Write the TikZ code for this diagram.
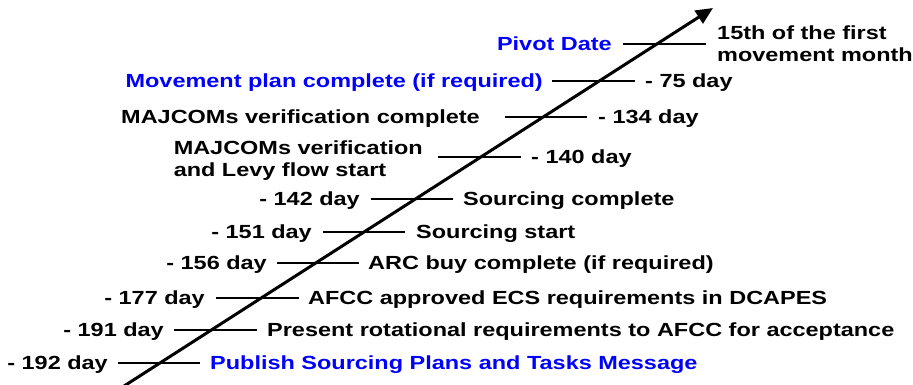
\documentclass[tikz,border=0pt]{standalone}
\usepackage{fontspec}
\newfontfamily\labfont{Liberation Sans}[FakeStretch=1.235]
\usetikzlibrary{arrows.meta}
\definecolor{pblue}{RGB}{0,0,255}
\begin{document}
\begin{tikzpicture}[x=1pt,y=-1pt,
  lab/.style={font=\labfont\bfseries\fontsize{19}{22}\selectfont, inner sep=0pt, text=black},
  rt/.style={lab, anchor=base west},
  lt/.style={lab, anchor=base east},
  hl/.style={text=pblue},
  tickline/.style={line width=2pt},
  axis/.style={line width=3pt, -{Triangle[length=17pt,width=15pt]}}]
\useasboundingbox (0,0) rectangle (913,385);
% timeline arrow
\coordinate (s) at (121,388);
\coordinate (e) at (713,8);
\draw[axis] (s) -- (e);
% ticks
\foreach \i/\xa/\xb/\y in {1/623/706/44, 2/552/635/81, 3/505/587/117, 4/438/521/157,
  5/371/453/199, 6/323/405/232, 7/277/359/263, 8/216/299/298, 9/174/257/330, 10/118/200/363}{
  \coordinate (a\i) at (\xa,\y);
  \coordinate (b\i) at (\xb,\y);
  \draw[tickline] (a\i) -- (b\i);
}
% labels
\node[lt,hl] (l1) at ([shift={(-11,6.8)}]a1) {Pivot Date};
\node[rt,align=left] (r1) at ([shift={(11,17.7)}]b1) {15th of the first\\movement month};
\node[lt,hl] (l2) at ([shift={(-9,6.8)}]a2) {Movement plan complete (if required)};
\node[rt] (r2) at ([shift={(10,6.8)}]b2) {- 75 day};
\node[lt] (l3) at ([shift={(-25,6.8)}]a3) {MAJCOMs verification complete};
\node[rt] (r3) at ([shift={(11,6.8)}]b3) {- 134 day};
\node[lt,align=left] (l4) at ([shift={(-15,19.7)}]a4) {MAJCOMs verification\\and Levy flow start};
\node[rt] (r4) at ([shift={(10,6.8)}]b4) {- 140 day};
\node[lt] (l5) at ([shift={(-11,6.8)}]a5) {- 142 day};
\node[rt] (r5) at ([shift={(10,6.8)}]b5) {Sourcing complete};
\node[lt] (l6) at ([shift={(-11,6.8)}]a6) {- 151 day};
\node[rt] (r6) at ([shift={(11,6.8)}]b6) {Sourcing start};
\node[lt] (l7) at ([shift={(-10,6.8)}]a7) {- 156 day};
\node[rt] (r7) at ([shift={(9,6.8)}]b7) {ARC buy complete (if required)};
\node[lt] (l8) at ([shift={(-11,6.8)}]a8) {- 177 day};
\node[rt] (r8) at ([shift={(9,6.8)}]b8) {AFCC approved ECS requirements in DCAPES};
\node[lt] (l9) at ([shift={(-10,6.8)}]a9) {- 191 day};
\node[rt] (r9) at ([shift={(10,6.8)}]b9) {Present rotational requirements to AFCC for acceptance};
\node[lt] (l10) at ([shift={(-10,6.8)}]a10) {- 192 day};
\node[rt,hl] (r10) at ([shift={(10,6.8)}]b10) {Publish Sourcing Plans and Tasks Message};
\end{tikzpicture}
\end{document}
